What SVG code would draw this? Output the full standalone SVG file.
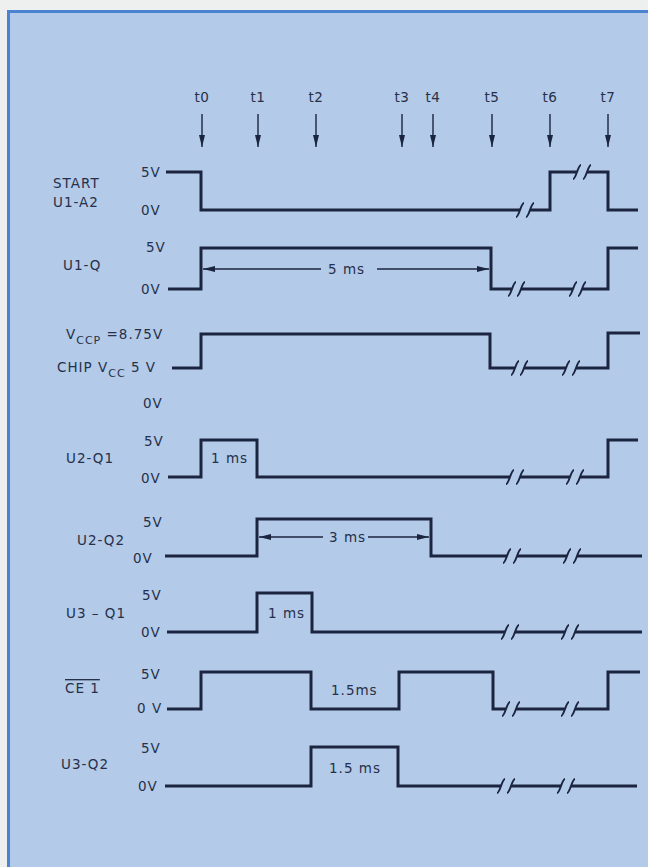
<svg xmlns="http://www.w3.org/2000/svg" width="648" height="867" viewBox="0 0 648 867">
<style>
text{font-family:"DejaVu Sans","Liberation Sans",sans-serif;font-size:13.5px;fill:#26304a;letter-spacing:1px}
.tl{text-anchor:middle;letter-spacing:0.5px}
.sig{fill:none;stroke:#1c2540;stroke-width:3;stroke-linejoin:miter;stroke-linecap:butt}
.brk{fill:none;stroke:#1c2540;stroke-width:2}
.arr{fill:none;stroke:#1c2540;stroke-width:1.4}
</style>
<defs>
<marker id="ah" viewBox="0 0 12 6" refX="12" refY="3" markerWidth="12" markerHeight="6" markerUnits="userSpaceOnUse" orient="auto">
<path d="M0,0 L12,3 L0,6 Z" fill="#1c2540"/>
</marker>
<path id="b" class="brk" d="M-4,7 C-1,7 1,-7 4,-7"/>
</defs>
<rect x="0" y="0" width="648" height="867" fill="#eef0f0"/>
<rect x="8.5" y="11.5" width="660" height="880" fill="#b3cae8" stroke="#4a84d0" stroke-width="3"/>

<g id="time-labels">
<text class="tl" x="202" y="102">t0</text>
<text class="tl" x="258" y="102">t1</text>
<text class="tl" x="316" y="102">t2</text>
<text class="tl" x="402" y="102">t3</text>
<text class="tl" x="433" y="102">t4</text>
<text class="tl" x="492" y="102">t5</text>
<text class="tl" x="550" y="102">t6</text>
<text class="tl" x="608" y="102">t7</text>
</g>

<g id="start">
<text x="53" y="188">START</text>
<text x="53" y="207">U1-A2</text>
<text x="141" y="177">5V</text>
<text x="141" y="215">0V</text>
<path class="sig" d="M166,172 H201 V210 H520 M530,210 H550 V172 H577 M587,172 H608 V210 H638"/>
<use href="#b" x="520" y="210"/><use href="#b" x="530" y="210"/>
<use href="#b" x="577" y="172"/><use href="#b" x="587" y="172"/>
</g>

<g id="u1-q">
<text x="63" y="270">U1-Q</text>
<text x="146" y="252">5V</text>
<text x="141" y="294">0V</text>
<text x="328" y="274">5 ms</text>
<path class="sig" d="M168,289 H201 V248 H491 V289 H512 M521,289 H573 M582,289 H608 V248 H638"/>
<use href="#b" x="512" y="289"/><use href="#b" x="521" y="289"/>
<use href="#b" x="573" y="289"/><use href="#b" x="582" y="289"/>
</g>

<g id="vccp">
<text x="66" y="339">V<tspan font-size="11" dy="5">CCP</tspan><tspan dy="-5"> =8.75V</tspan></text>
<text x="57" y="372">CHIP <tspan>V</tspan><tspan font-size="11" dy="5">CC</tspan><tspan dy="-5"> 5 V</tspan></text>
<text x="143" y="408">0V</text>
<path class="sig" d="M172,368 H201 V334 H490 V368 H515 M524,368 H566 M576,368 H608 V333 H640"/>
<use href="#b" x="515" y="368"/><use href="#b" x="524" y="368"/>
<use href="#b" x="566" y="368"/><use href="#b" x="576" y="368"/>
</g>

<g id="u2-q1">
<text x="66" y="463">U2-Q1</text>
<text x="144" y="446">5V</text>
<text x="141" y="483">0V</text>
<text x="211" y="463">1 ms</text>
<path class="sig" d="M168,477 H201 V440 H257 V477 H510 M520,477 H570 M580,477 H608 V440 H638"/>
<use href="#b" x="510" y="477"/><use href="#b" x="520" y="477"/>
<use href="#b" x="570" y="477"/><use href="#b" x="580" y="477"/>
</g>

<g id="u2-q2">
<text x="77" y="545">U2-Q2</text>
<text x="143" y="527">5V</text>
<text x="133" y="563">0V</text>
<text x="329" y="542">3 ms</text>
<path class="sig" d="M165,556 H257 V519 H431 V556 H507 M517,556 H567 M577,556 H642"/>
<use href="#b" x="507" y="556"/><use href="#b" x="517" y="556"/>
<use href="#b" x="567" y="556"/><use href="#b" x="577" y="556"/>
</g>

<g id="u3-q1">
<text x="66" y="618">U3 – Q1</text>
<text x="142" y="600">5V</text>
<text x="141" y="637">0V</text>
<text x="268" y="618">1 ms</text>
<path class="sig" d="M167,632 H257 V593 H312 V632 H505 M515,632 H565 M575,632 H642"/>
<use href="#b" x="505" y="632"/><use href="#b" x="515" y="632"/>
<use href="#b" x="565" y="632"/><use href="#b" x="575" y="632"/>
</g>

<g id="ce1">
<text x="65" y="693" style="text-decoration:overline">CE 1</text>
<text x="141" y="679">5V</text>
<text x="137" y="713">0 V</text>
<text x="331" y="695">1.5ms</text>
<path class="sig" d="M167,709 H201 V672 H311 V709 H399 V672 H493 V709 H506 M516,709 H565 M575,709 H608 V672 H640"/>
<use href="#b" x="506" y="709"/><use href="#b" x="516" y="709"/>
<use href="#b" x="565" y="709"/><use href="#b" x="575" y="709"/>
</g>

<g id="u3-q2">
<text x="61" y="769">U3-Q2</text>
<text x="141" y="753">5V</text>
<text x="138" y="791">0V</text>
<text x="329" y="773">1.5 ms</text>
<path class="sig" d="M165,786 H311 V747 H398 V786 H501 M511,786 H561 M571,786 H637"/>
<use href="#b" x="501" y="786"/><use href="#b" x="511" y="786"/>
<use href="#b" x="561" y="786"/><use href="#b" x="571" y="786"/>
</g>

<g id="connectors">
<line class="arr" x1="202" y1="114" x2="202" y2="147" marker-end="url(#ah)"/>
<line class="arr" x1="258" y1="114" x2="258" y2="147" marker-end="url(#ah)"/>
<line class="arr" x1="316" y1="114" x2="316" y2="147" marker-end="url(#ah)"/>
<line class="arr" x1="402" y1="114" x2="402" y2="147" marker-end="url(#ah)"/>
<line class="arr" x1="433" y1="114" x2="433" y2="147" marker-end="url(#ah)"/>
<line class="arr" x1="492" y1="114" x2="492" y2="147" marker-end="url(#ah)"/>
<line class="arr" x1="550" y1="114" x2="550" y2="147" marker-end="url(#ah)"/>
<line class="arr" x1="608" y1="114" x2="608" y2="147" marker-end="url(#ah)"/>
<line class="arr" x1="321" y1="269" x2="203" y2="269" marker-end="url(#ah)"/>
<line class="arr" x1="377" y1="269" x2="489" y2="269" marker-end="url(#ah)"/>
<line class="arr" x1="323" y1="537" x2="259" y2="537" marker-end="url(#ah)"/>
<line class="arr" x1="368" y1="537" x2="429" y2="537" marker-end="url(#ah)"/>
</g>
</svg>
